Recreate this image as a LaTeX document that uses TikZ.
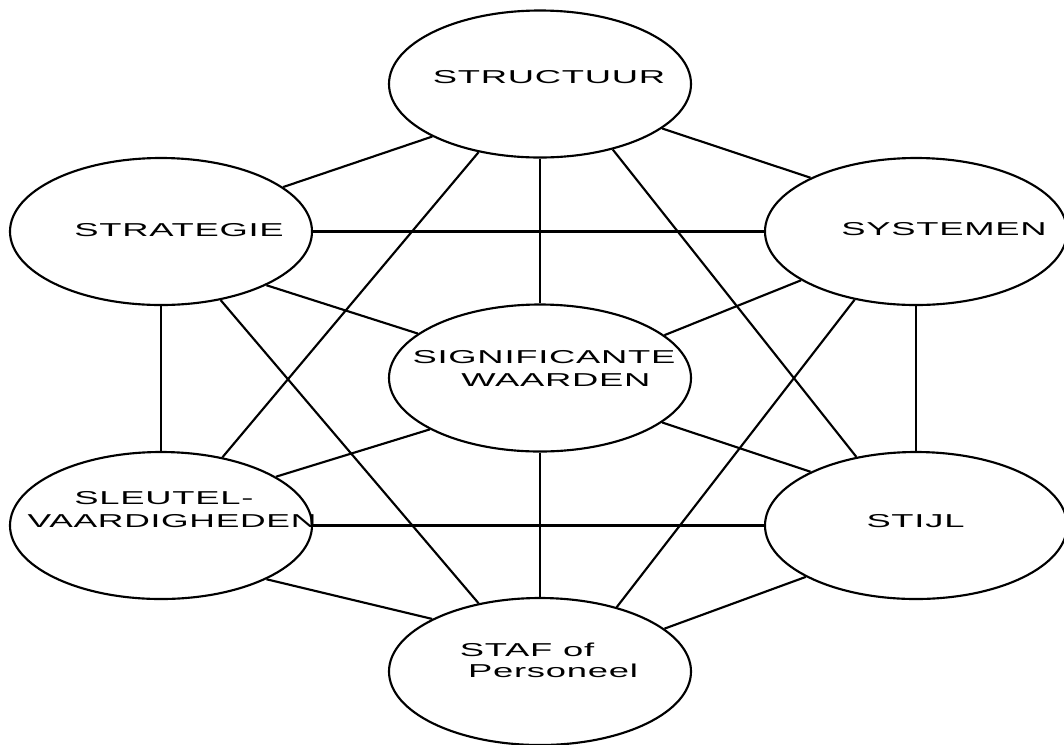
\documentclass[tikz,border=0pt]{standalone}
\usepackage{fontspec}
\usepackage{graphicx}
\usetikzlibrary{shapes.geometric}
% sans face used for all labels, drawn horizontally widened
\newfontfamily\labelfont[LetterSpace=2]{Liberation Sans}
\newcommand{\widetext}[1]{\scalebox{1.95}[1]{#1}}

\tikzset{
  sbox/.style={ellipse, draw, line width=1.6pt, minimum width=226.5pt,
    minimum height=110.25pt, inner sep=0pt},
  slabel/.style={font=\labelfont\fontsize{14pt}{16pt}\selectfont,
    inner sep=0pt, anchor=base},
  link/.style={line width=1.6pt}
}

\begin{document}
\begin{tikzpicture}[x=0.75pt, y=-0.75pt]
  \useasboundingbox (0,0) rectangle (1064,744);

  % the seven elements
  \node[sbox] (struc) at (540,84)    {};
  \node[sbox] (strat) at (161,231.5) {};
  \node[sbox] (syst)  at (916,231.5) {};
  \node[sbox] (sign)  at (540,378)   {};
  \node[sbox] (sleu)  at (161,525.5) {};
  \node[sbox] (stijl) at (916,525.5) {};
  \node[sbox] (staf)  at (540,671.5) {};

  % labels
  \node[slabel] (tstruc) at (549,83.3)   {\widetext{STRUCTUUR}};
  \node[slabel] (tstrat) at (179,236)    {\widetext{STRATEGIE}};
  \node[slabel] (tsyst)  at (944,235)    {\widetext{SYSTEMEN}};
  \node[slabel] (tsignA) at (544,363.3)  {\widetext{SIGNIFICANTE}};
  \node[slabel] (tsignB) at (556,386.7)  {\widetext{WAARDEN}};
  \node[slabel] (tsleuA) at (164,504)    {\widetext{SLEUTEL-}};
  \node[slabel] (tsleuB) at (172,527.3)  {\scalebox{1.9}[1]{VAARDIGHEDEN}};
  \node[slabel] (tstijl) at (915.5,527.3){\widetext{STIJL}};
  \node[slabel] (tstafA) at (527,656.7)  {\widetext{STAF of}};
  \node[slabel] (tstafB) at (553,677)    {\widetext{Personeel}};

  % connections from STRUCTUUR
  \draw[link] (struc.206)   -- (strat.20.5);
  \draw[link] (struc.340.2) -- (syst.153.4);
  \draw[link] (struc.270)   -- (sign.90);
  \draw[link] (struc.228.5) -- (sleu.48.7);
  \draw[link] (struc.318.7) -- (stijl.131.2);

  % connections from STRATEGIE
  \draw[link] (strat.0)     -- (syst.180);
  \draw[link] (strat.333.9) -- (sign.160);
  \draw[link] (strat.270)   -- (sleu.90);
  \draw[link] (strat.311.9) -- (staf.132.1);

  % connections from SYSTEMEN
  \draw[link] (syst.203.75) -- (sign.19.9);
  \draw[link] (syst.270)    -- (stijl.90);
  \draw[link] (syst.228.4)  -- (staf.40.8);

  % connections from SIGNIFICANTE WAARDEN
  \draw[link] (sign.205.9)  -- (sleu.23.4);
  \draw[link] (sign.340.1)  -- (stijl.153.2);
  \draw[link] (sign.270)    -- (staf.90);

  % lower ring
  \draw[link] (sleu.0)      -- (stijl.180);
  \draw[link] (sleu.333.9)  -- (staf.154.5);
  \draw[link] (stijl.205.8) -- (staf.19.8);
\end{tikzpicture}
\end{document}
